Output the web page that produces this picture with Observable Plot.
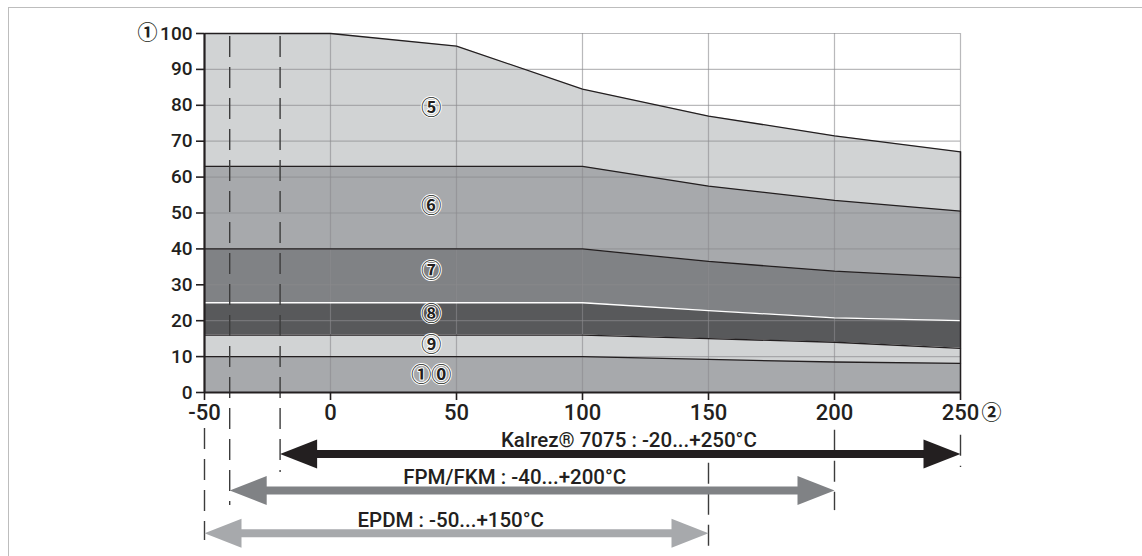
<!DOCTYPE html>
<html><head><meta charset="utf-8">
<script src="https://cdn.jsdelivr.net/npm/d3@7"></script>
<script src="https://cdn.jsdelivr.net/npm/@observablehq/plot@0.6"></script>
<style>
html,body{margin:0;padding:0;background:#fff;overflow:hidden}
#wrap{position:relative;width:1142px;height:556px}
#frame{position:absolute;left:8px;top:7px;right:0;bottom:0;border-top:1.5px solid #bdbdbd;border-left:1.5px solid #bdbdbd;pointer-events:none}
#chart{position:absolute;left:0;top:0}
</style></head><body>
<div id="wrap"><div id="chart"></div><div id="frame"></div></div>
<script>
// ---- data ----
const temperatures = [-50, 0, 50, 100, 150, 200, 250];
const band5  = [100, 100, 96.5, 84.5, 77, 71.5, 67];
const band6  = [63, 63, 63, 63, 57.5, 53.5, 50.5];
const band7  = [40, 40, 40, 40, 36.5, 33.8, 32];
const band8  = [25, 25, 25, 25, 22.8, 20.8, 20];
const band9  = [16, 16, 16, 16, 15, 14, 12.3];
const band10 = [10, 10, 10, 10, 9.2, 8.5, 8.1];
const bandTops = [band5, band6, band7, band8, band9, band10];
const bandNames = ["⑤", "⑥", "⑦", "⑧", "⑨", "①⓪"];
const bandLabelY = [79, 51.8, 33.7, 21.6, 13.1, 4.7];
const bandLabelX = 40;

const materials = ["Kalrez® 7075", "FPM/FKM", "EPDM"];
const minTemps = [-20, -40, -50];
const maxTemps = [250, 200, 150];

const yTicks = d3.range(0, 101, 10);
const xTicks = d3.range(-50, 251, 50);
const yAxisMark = "①";
const xAxisMark = "②";

// ---- layout / style ----
const bandFills = ["#d1d3d4", "#a7a9ac", "#808285", "#58595b", "#d1d3d4", "#a7a9ac"];
const bandStroke = ["#231f20", "#231f20", "#231f20", "#ffffff", "#231f20", "#231f20"];
const arrowColors = ["#231f20", "#808285", "#a7a9ac"];
const arrowY = [-17.1, -27.3, -39.2];
const arrowLabelX = [118.4, 73.1, 47.7];
const arrowLabelY = [-13.4, -23.6, -35.7];
const guides = [
  {x: -50, y1: -9.2, y2: -41.2},
  {x: -40, y1: 100, y2: -31.5},
  {x: -20, y1: 100, y2: -22.3},
  {x: 150, y1: -18.9, y2: -43.2},
  {x: 200, y1: -9.7, y2: -32.9},
  {x: 250, y1: -11.1, y2: -20.9}
];
const ink = "#231f20";
const textFont = "Roboto, sans-serif";
const circleFont = "'Noto Sans CJK JP', 'DejaVu Sans', sans-serif";

const rightHead = {draw(ctx) { ctx.moveTo(0, 0); ctx.lineTo(-37, -14.5); ctx.lineTo(-37, 14.5); ctx.closePath(); }};
const leftHead  = {draw(ctx) { ctx.moveTo(0, 0); ctx.lineTo(37, -14.5); ctx.lineTo(37, 14.5); ctx.closePath(); }};

const bandRows = bandTops.map((tops, i) => temperatures.map((t, j) => ({
  x: t, top: tops[j], bottom: i < bandTops.length - 1 ? bandTops[i + 1][j] : 0
})));

const arrows = materials.map((m, i) => ({
  name: m, min: minTemps[i], max: maxTemps[i], y: arrowY[i], color: arrowColors[i],
  lx: arrowLabelX[i], ly: arrowLabelY[i],
  label: `${m} : ${minTemps[i]}...+${maxTemps[i]}°C`
}));

const marks = [];
bandRows.forEach((rows, i) => {
  marks.push(Plot.areaY(rows, {x: "x", y1: "bottom", y2: "top", fill: bandFills[i], curve: "linear"}));
});
marks.push(Plot.gridY({ticks: d3.range(10, 101, 10), stroke: "#8a8b8d", strokeOpacity: 0.6, strokeWidth: 1.2}));
marks.push(Plot.gridX({ticks: d3.range(0, 251, 50), stroke: "#8a8b8d", strokeOpacity: 0.6, strokeWidth: 1.2}));
bandRows.forEach((rows, i) => {
  marks.push(Plot.line(rows, {x: "x", y: "top", stroke: bandStroke[i], strokeWidth: 1.3}));
});
marks.push(Plot.ruleX([250], {y1: 0, y2: band5[band5.length - 1], stroke: ink, strokeWidth: 1.5}));
marks.push(Plot.ruleX(guides, {x: "x", y1: "y1", y2: "y2", stroke: "#3c3c3c", strokeWidth: 1.4, strokeDasharray: "21,10", strokeDashoffset: -3}));
marks.push(Plot.ruleX([-50], {y1: 0, y2: 100, stroke: ink, strokeWidth: 2.2}));
marks.push(Plot.ruleY([0], {x1: -50, x2: 250, stroke: ink, strokeWidth: 2.2}));
marks.push(Plot.axisY({ticks: yTicks, tickFormat: d => String(d), tickSize: 8, tickPadding: 4, fontSize: 19, fontWeight: 500, stroke: ink, fill: ink, strokeWidth: 1.6, label: null}));
marks.push(Plot.axisX({ticks: xTicks, tickFormat: d => String(d), tickSize: 8, tickPadding: 4, fontSize: 22, fontWeight: 500, stroke: ink, fill: ink, strokeWidth: 1.6, label: null}));
marks.push(Plot.text([yAxisMark], {x: -50, y: 100, text: d => d, dx: -57, fontSize: 20, fontWeight: "bold", fontFamily: circleFont, fill: ink}));
marks.push(Plot.text([xAxisMark], {x: 250, y: 0, text: d => d, dx: 31, dy: 21, fontSize: 20, fontWeight: "bold", fontFamily: circleFont, fill: ink}));
marks.push(Plot.text(bandNames, {x: () => bandLabelX, y: (d, i) => bandLabelY[i], text: d => d, fontSize: 20, fontWeight: "bold", fontFamily: circleFont, fill: ink, stroke: "white", strokeWidth: 2}));
arrows.forEach(a => {
  marks.push(Plot.ruleY([a], {y: "y", x1: d => d.min + 10, x2: d => d.max - 10, stroke: a.color, strokeWidth: 8}));
  marks.push(Plot.dot([a], {x: "max", y: "y", symbol: rightHead, fill: a.color, stroke: "none"}));
  marks.push(Plot.dot([a], {x: "min", y: "y", symbol: leftHead, fill: a.color, stroke: "none"}));
  marks.push(Plot.text([a], {x: "lx", y: "ly", text: "label", fontSize: 20.5, fontWeight: 500, fill: ink}));
});

const chart = Plot.plot({
  width: 1142,
  height: 556,
  marginLeft: 204,
  marginRight: 182,
  marginTop: 33,
  marginBottom: 164,
  x: {domain: [-50, 250], axis: null},
  y: {domain: [0, 100], axis: null},
  style: {fontFamily: textFont, background: "transparent", overflow: "visible"},
  marks
});
document.getElementById("chart").appendChild(chart);
</script>
</body></html>
